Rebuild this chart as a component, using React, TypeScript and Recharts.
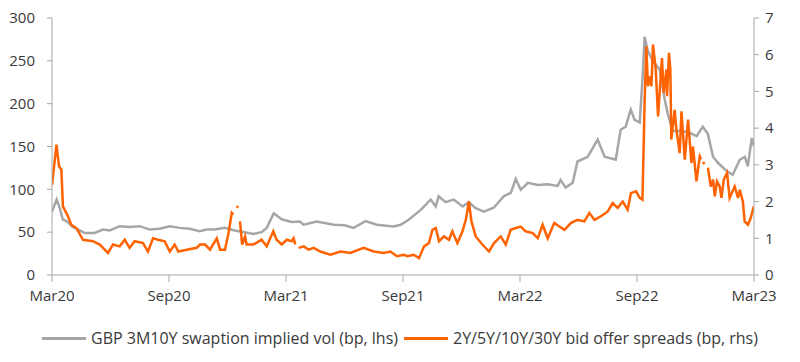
import React from 'react';
import { LineChart, Line, XAxis, YAxis, Legend } from 'recharts';

// x positions are months since Mar 2020
const tickMonths = [0, 6, 12, 18, 24, 30, 36];
const tickLabels = ['Mar20', 'Sep20', 'Mar21', 'Sep21', 'Mar22', 'Sep22', 'Mar23'];
const leftTicks = [0, 50, 100, 150, 200, 250, 300];
const rightTicks = [0, 1, 2, 3, 4, 5, 6, 7];

// GBP 3M10Y swaption implied vol (bp, lhs)
const volMonths = [0, 0.24, 0.40, 0.55, 0.80, 1.06, 1.42, 1.68, 2.19, 2.60, 2.96, 3.47, 3.98, 4.50, 5.01, 5.52, 6.04, 6.55, 7.06, 7.57, 7.93, 8.34, 8.86, 9.37, 9.88, 10.34, 10.75, 11.01, 11.37, 11.78, 12.29, 12.70, 12.91, 13.57, 14.45, 15.01, 15.47, 16.09, 16.65, 17.52, 17.88, 18.29, 18.91, 19.42, 19.68, 19.83, 20.19, 20.60, 21.06, 21.37, 21.73, 22.14, 22.65, 23.17, 23.53, 23.78, 24.04, 24.29, 24.40, 24.91, 25.42, 25.93, 26.08, 26.34, 26.70, 26.95, 27.47, 27.98, 28.34, 28.91, 29.16, 29.42, 29.68, 29.88, 30.14, 30.29, 30.39, 30.55, 30.80, 31.16, 31.42, 31.57, 31.83, 32.34, 32.70, 33.06, 33.37, 33.63, 33.90, 34.15, 34.61, 34.91, 35.27, 35.53, 35.68, 35.89, 36.0];
const volValues = [74, 88, 78, 65, 62, 56, 52, 49, 49, 53, 52, 57, 56, 57, 53, 54, 57, 55, 54, 51, 53, 53, 55, 52, 50, 48, 50, 55, 72, 65, 62, 62.5, 58.7, 62.5, 58.7, 58, 55, 63, 58.7, 56.7, 58.7, 64.5, 76, 88, 80, 92, 85, 88, 80, 85, 78, 74, 78.5, 92, 96, 112, 99.5, 105, 107.6, 105, 106, 104, 111, 102, 107.6, 132.5, 138, 158, 138, 134.5, 169.5, 173, 193, 181, 178, 232, 278, 262, 250, 240, 205, 189, 168, 168, 166, 162, 173, 165, 138, 131, 121, 117, 134.5, 138, 127, 160, 150];

// 2Y/5Y/10Y/30Y bid offer spreads (bp, rhs)
const spreadMonths = [0, 0.23, 0.36, 0.48, 0.56, 0.82, 0.99, 1.25, 1.59, 2.10, 2.45, 2.87, 3.13, 3.47, 3.73, 3.98, 4.24, 4.67, 4.92, 5.18, 5.44, 5.78, 6.04, 6.29, 6.48, 6.91, 7.42, 7.59, 7.85, 8.10, 8.45, 8.62, 8.87, 9.05, 9.22, 9.30, 9.38, 9.47, 9.55, 9.59, 9.64, 9.75, 9.90, 9.98, 10.33, 10.75, 11.01, 11.35, 11.52, 11.78, 12.04, 12.29, 12.39, 12.48, 12.56, 12.64, 12.91, 13.16, 13.42, 13.76, 14.28, 14.79, 15.30, 15.98, 16.50, 17.01, 17.35, 17.69, 18.04, 18.23, 18.55, 18.82, 19.08, 19.33, 19.51, 19.68, 19.85, 20.10, 20.36, 20.53, 20.79, 21.05, 21.22, 21.38, 21.51, 21.73, 22.07, 22.41, 22.67, 23.01, 23.27, 23.52, 23.78, 24.04, 24.29, 24.65, 24.91, 25.16, 25.42, 25.76, 26.02, 26.28, 26.62, 26.96, 27.30, 27.56, 27.82, 28.15, 28.50, 28.75, 29.01, 29.27, 29.52, 29.69, 29.95, 30.14, 30.28, 30.39, 30.48, 30.56, 30.65, 30.74, 30.82, 30.96, 31.08, 31.28, 31.37, 31.51, 31.54, 31.64, 31.71, 31.76, 31.93, 32.02, 32.19, 32.28, 32.45, 32.62, 32.79, 32.87, 33.05, 33.22, 33.29, 33.34, 33.39, 33.45, 33.52, 33.64, 33.78, 33.90, 33.99, 34.10, 34.24, 34.33, 34.45, 34.62, 34.75, 35.01, 35.18, 35.27, 35.43, 35.52, 35.69, 35.83, 35.99];
const spreadValues = [2.45, 3.55, 2.96, 2.87, 1.87, 1.6, 1.37, 1.28, 0.96, 0.92, 0.83, 0.6, 0.83, 0.78, 0.96, 0.74, 0.92, 0.87, 0.64, 1.0, 0.96, 0.92, 0.64, 0.83, 0.64, 0.69, 0.74, 0.83, 0.83, 0.69, 1.0, 0.69, 0.69, 1.14, 1.69, 1.64, null, 1.83, 1.88, null, 1.46, 0.83, 1.05, 0.83, 0.83, 0.96, 0.78, 1.19, 0.96, 0.83, 0.96, 0.92, 1.0, 0.83, null, 0.74, 0.78, 0.69, 0.74, 0.64, 0.55, 0.64, 0.6, 0.74, 0.64, 0.6, 0.64, 0.51, 0.55, 0.51, 0.55, 0.46, 0.78, 0.87, 1.23, 1.28, 0.92, 1.05, 0.96, 1.19, 0.87, 1.19, 1.5, 2.0, 1.46, 1.05, 0.83, 0.64, 0.87, 1.05, 0.83, 1.23, 1.28, 1.32, 1.19, 1.14, 1.0, 1.37, 1.0, 1.42, 1.32, 1.23, 1.42, 1.5, 1.46, 1.69, 1.5, 1.6, 1.73, 1.96, 1.83, 2.0, 1.78, 2.23, 2.28, 2.1, 2.05, 4.69, 6.23, 5.14, 5.41, 5.14, 6.28, 5.6, 4.32, 5.91, 4.96, 5.6, 4.87, 6.05, 5.6, 3.69, 4.5, 3.96, 3.32, 4.46, 3.14, 4.23, 3.05, 3.5, 2.55, 3.23, 3.15, null, 3.08, 3.02, null, 2.92, 2.41, 2.6, 2.14, 2.55, 2.41, 2.1, 2.6, 2.78, 2.1, 2.41, 2.1, 2.32, 2.0, 1.46, 1.37, 1.55, 1.87];

const volName = 'GBP 3M10Y swaption implied vol (bp, lhs)';
const spreadName = '2Y/5Y/10Y/30Y bid offer spreads (bp, rhs)';

const volData = volMonths.map((m, i) => ({ m, vol: volValues[i] }));
const spreadData = spreadMonths.map((m, i) => ({ m, spread: spreadValues[i] }));

const FONT = '"Open Sans", "Liberation Sans", Arial, sans-serif';
const TEXT = '#3a3a3a';
const AXIS = '#a6a6a6';
const GRAY = '#a6a6a6';
const ORANGE = '#ff6200';

const tickStyle = { fontFamily: FONT, fontSize: 15, fill: TEXT };

function LegendContent() {
  const item = (color: string, label: string) => (
    <div style={{ display: 'flex', alignItems: 'center' }}>
      <div style={{ width: 44, height: 3, background: color, marginRight: 5 }} />
      <span>{label}</span>
    </div>
  );
  return (
    <div
      style={{
        height: 36,
        display: 'flex',
        alignItems: 'center',
        justifyContent: 'center',
        gap: 6,
        fontFamily: FONT,
        fontSize: 16,
        color: TEXT,
        whiteSpace: 'nowrap',
      }}
    >
      {item(GRAY, volName)}
      {item(ORANGE, spreadName)}
    </div>
  );
}

export default function App() {
  return (
    <div style={{ position: 'absolute', left: 0, top: 0, width: 800, height: 362, background: '#fff' }}>
      <LineChart width={800} height={362} margin={{ top: 18, right: 0, bottom: 6, left: 0 }}>
        <XAxis
          type="number"
          dataKey="m"
          domain={[0, 36]}
          ticks={tickMonths}
          tickFormatter={(v: number) => tickLabels[tickMonths.indexOf(v)]}
          allowDataOverflow
          height={45}
          stroke={AXIS}
          tickLine={{ stroke: AXIS }}
          tickSize={7}
          tickMargin={8}
          tick={tickStyle}
        />
        <YAxis
          yAxisId="left"
          orientation="left"
          domain={[0, 300]}
          ticks={leftTicks}
          width={52}
          stroke={AXIS}
          tickSize={5}
          tickMargin={12}
          tick={tickStyle}
          allowDataOverflow
        />
        <YAxis
          yAxisId="right"
          orientation="right"
          domain={[0, 7]}
          ticks={rightTicks}
          width={46}
          stroke={AXIS}
          tickSize={5}
          tickMargin={6}
          tick={tickStyle}
          allowDataOverflow
        />
        <Legend verticalAlign="bottom" height={36} content={() => <LegendContent />} />
        <Line
          yAxisId="left"
          data={volData}
          dataKey="vol"
          name={volName}
          stroke={GRAY}
          strokeWidth={2.5}
          dot={false}
          isAnimationActive={false}
        />
        <Line
          yAxisId="right"
          data={spreadData}
          dataKey="spread"
          name={spreadName}
          stroke={ORANGE}
          strokeWidth={2.5}
          dot={false}
          connectNulls={false}
          isAnimationActive={false}
        />
      </LineChart>
    </div>
  );
}
